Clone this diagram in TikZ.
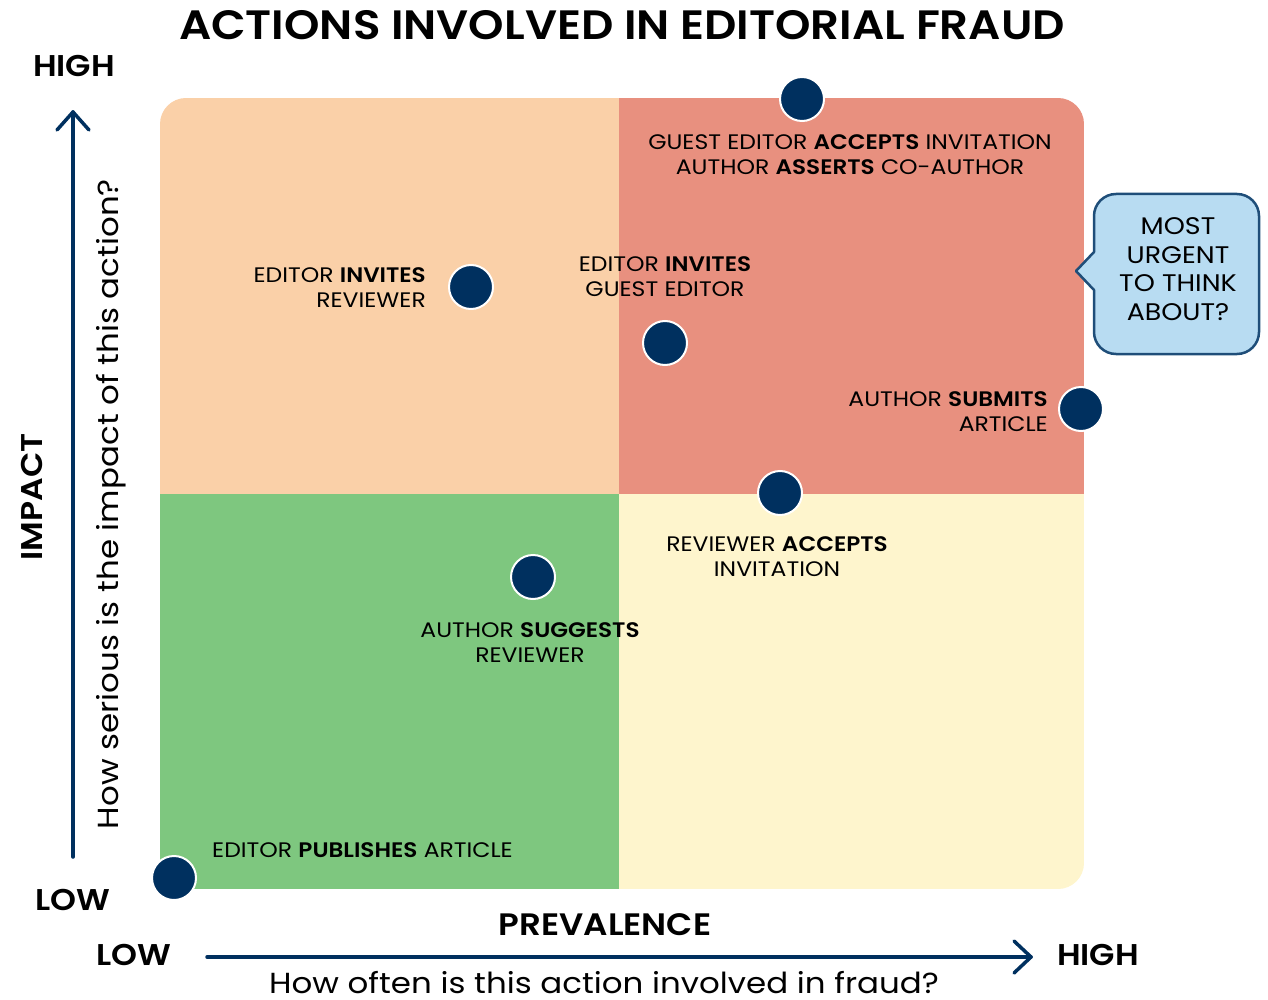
\documentclass[tikz,border=0pt]{standalone}
\usepackage{fontspec}
\setmainfont{Poppins}[FakeStretch=1.12,BoldFont={Poppins SemiBold},BoldFeatures={FakeStretch=1.1}]
\definecolor{peach}{HTML}{FAD0A8}
\definecolor{salmon}{HTML}{E8907F}
\definecolor{leaf}{HTML}{7EC77F}
\definecolor{cream}{HTML}{FEF5CD}
\definecolor{navy}{HTML}{00305F}
\definecolor{calloutfill}{HTML}{B8DCF2}
\definecolor{calloutline}{HTML}{1F4E79}
\begin{document}
\begin{tikzpicture}[x=1pt,y=-1pt,
  dot/.style={circle,fill=navy,draw=white,line width=2pt,minimum size=44pt,inner sep=0pt},
  lbl/.style={font=\fontsize{21}{25}\selectfont,inner sep=0pt,text=black},
  axislbl/.style={font=\fontsize{30}{34}\selectfont\bfseries,inner sep=0pt},
  axisarrow/.style={draw=navy,line width=3.5pt,line cap=round,line join=round},
]
\useasboundingbox (0,0) rectangle (1268,1000);
% quadrants
\begin{scope}
\clip[rounded corners=26pt] (160,98) rectangle (1084,889);
\fill[peach] (160,98) rectangle (619,494);
\fill[salmon] (619,98) rectangle (1084,494);
\fill[leaf] (160,494) rectangle (619,889);
\fill[cream] (619,494) rectangle (1084,889);
\end{scope}
% title
\node[font=\fontsize{41}{45}\selectfont\bfseries,inner sep=0pt] (title) at (622,25) {ACTIONS INVOLVED IN EDITORIAL FRAUD};
% vertical axis
\coordinate (vbot) at (73,857);
\coordinate (vtop) at (73,112);
\draw[axisarrow] (vbot) -- (vtop);
\draw[axisarrow] (57,130) -- (73,112) -- (89,130);
\node[axislbl] (vhigh) at (74,66) {HIGH};
\node[axislbl] (vlow) at (73,900) {LOW};
\node[axislbl,rotate=90] (impact) at (32,497) {IMPACT};
\node[font=\fontsize{29}{33}\selectfont,inner sep=0pt,rotate=90] (vq) at (111,504) {How serious is the impact of this action?};
% horizontal axis
\coordinate (hl) at (207,957);
\coordinate (hr) at (1031,957);
\draw[axisarrow] (hl) -- (hr);
\draw[axisarrow] (1014,941) -- (1031,957) -- (1014,973);
\node[axislbl] (hlow) at (134,955) {LOW};
\node[axislbl] (hhigh) at (1098,955) {HIGH};
\node[axislbl,font=\fontsize{31}{34}\selectfont\bfseries] (prev) at (605,925) {PREVALENCE};
\node[font=\fontsize{29}{33}\selectfont,inner sep=0pt] (hq) at (604,983) {How often is this action involved in fraud?};
% labels
\node[lbl,align=center] (l1) at (850,155) {GUEST EDITOR \textbf{ACCEPTS} INVITATION\\AUTHOR \textbf{ASSERTS} CO-AUTHOR};
\node[lbl,align=right,anchor=east] (l2) at (426,288) {EDITOR \textbf{INVITES}\\REVIEWER};
\node[lbl,align=center] (l3) at (665,277) {EDITOR \textbf{INVITES}\\GUEST EDITOR};
\node[lbl,align=right,anchor=east] (l4) at (1048,412) {AUTHOR \textbf{SUBMITS}\\ARTICLE};
\node[lbl,align=center] (l5) at (777,557) {REVIEWER \textbf{ACCEPTS}\\INVITATION};
\node[lbl,align=center] (l6) at (530,643) {AUTHOR \textbf{SUGGESTS}\\REVIEWER};
\node[lbl,anchor=west] (l7) at (212,850) {EDITOR \textbf{PUBLISHES} ARTICLE};
% dots
\node[dot] (d1) at (802,99) {};
\node[dot] (d2) at (471,287) {};
\node[dot] (d3) at (665,343) {};
\node[dot] (d4) at (1081,409) {};
\node[dot] (d5) at (780,493) {};
\node[dot] (d6) at (533,577) {};
\node[dot] (d7) at (174,878) {};
% callout
\draw[fill=calloutfill,draw=calloutline,line width=2.5pt,line join=round]
  (1094,252) -- (1076,271) -- (1094,290)
  [rounded corners=22pt] -- (1094,354) -- (1259,354) -- (1259,194) -- (1094,194) [sharp corners] -- (1094,252) -- cycle;
\node[font=\fontsize{24}{28.5}\selectfont,align=center,inner sep=0pt] (callout) at (1178,269) {MOST\\URGENT\\TO THINK\\ABOUT?};
\end{tikzpicture}
\end{document}
